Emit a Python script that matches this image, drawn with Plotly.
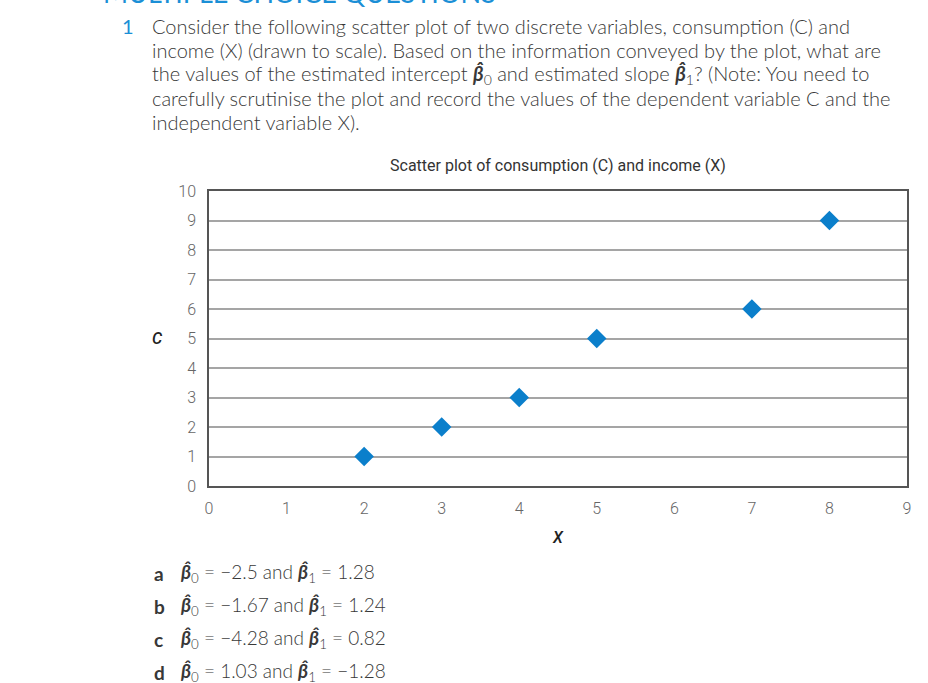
import plotly.graph_objects as go

# Data
income_x = [2, 3, 4, 5, 7, 8]
consumption_c = [1, 2, 3, 5, 6, 9]
x_ticks = [0, 1, 2, 3, 4, 5, 6, 7, 8, 9]
y_ticks = [0, 1, 2, 3, 4, 5, 6, 7, 8, 9, 10]

heading = "MULTIPLE CHOICE QUESTIONS"
question_lines = [
    "Consider the following scatter plot of two discrete variables, consumption (C) and",
    "income (X) (drawn to scale). Based on the information conveyed by the plot, what are",
    "the values of the estimated intercept <b><i>β̂</i></b><sub>0</sub> and estimated slope <b><i>β̂</i></b><sub>1</sub>? (Note: You need to",
    "carefully scrutinise the plot and record the values of the dependent variable C and the",
    "independent variable X).",
]
option_letters = ["a", "b", "c", "d"]
option_texts = [
    "<b><i>β̂</i></b><sub>0</sub> = −2.5 and <b><i>β̂</i></b><sub>1</sub> = 1.28",
    "<b><i>β̂</i></b><sub>0</sub> = −1.67 and <b><i>β̂</i></b><sub>1</sub> = 1.24",
    "<b><i>β̂</i></b><sub>0</sub> = −4.28 and <b><i>β̂</i></b><sub>1</sub> = 0.82",
    "<b><i>β̂</i></b><sub>0</sub> = 1.03 and <b><i>β̂</i></b><sub>1</sub> = −1.28",
]

W, H = 928, 683
L, R, T, B = 209, 907, 191, 486


def px(x):
    return (x - L) / (R - L)


def py(y):
    return (B - y) / (B - T)


fig = go.Figure()
fig.add_trace(go.Scatter(
    x=income_x, y=consumption_c, mode="markers",
    marker=dict(symbol="diamond", size=15, color="#0b7fcb"),
    showlegend=False, cliponaxis=False,
))

body_font = dict(family="Lato", size=20, color="#383838", weight=300)
ann = []
ann.append(dict(x=px(101), y=py(-8), text=heading, xanchor="left", yanchor="middle",
                font=dict(family="Lato", size=27, color="#1b8fd6", weight=400)))
ann.append(dict(x=px(120), y=py(26), text="1", xanchor="left", yanchor="middle",
                font=dict(family="Lato", size=20, color="#1b8fd6", weight=400)))
for i, line in enumerate(question_lines):
    ann.append(dict(x=px(150), y=py(26 + 24 * i), text=line, xanchor="left", yanchor="middle",
                    font=body_font))
for i, (let, txt) in enumerate(zip(option_letters, option_texts)):
    yy = 573 + 33 * i
    ann.append(dict(x=px(152), y=py(yy), text="<b>" + let + "</b>", xanchor="left", yanchor="middle",
                    font=dict(family="Lato", size=19, color="#383838", weight=400)))
    ann.append(dict(x=px(178), y=py(yy), text=txt, xanchor="left", yanchor="middle",
                    font=dict(family="Lato", size=19, color="#383838", weight=300)))
# chart title and axis labels
ann.append(dict(x=0.5, y=py(165), text="Scatter plot of consumption (C) and income (X)",
                xanchor="center", yanchor="middle",
                font=dict(family="Roboto", size=16, color="#333333", weight=400)))
ann.append(dict(x=px(157), y=py(338), text="<i>C</i>", xanchor="center", yanchor="middle",
                font=dict(family="Roboto", size=16, color="#222222", weight=500)))
ann.append(dict(x=0.5, y=py(537), text="<i>X</i>", xanchor="center", yanchor="middle",
                font=dict(family="Roboto", size=16, color="#222222", weight=500)))
for a in ann:
    a.update(xref="paper", yref="paper", showarrow=False)

tick_font = dict(family="Roboto", size=16, color="#666666", weight=300)
fig.update_layout(
    width=W, height=H,
    margin=dict(l=L, r=W - R, t=T, b=H - B),
    paper_bgcolor="white", plot_bgcolor="white",
    annotations=ann,
    xaxis=dict(range=[0, 9], tickvals=x_ticks, showgrid=False, zeroline=False,
               showline=True, linecolor="#555555", linewidth=1.5, mirror=True,
               ticks="", ticklabelstandoff=7, tickfont=tick_font),
    yaxis=dict(range=[0, 10], tickvals=y_ticks, showgrid=True, gridcolor="#a5a5a5", gridwidth=1.5,
               zeroline=False, showline=True, linecolor="#555555", linewidth=1.5, mirror=True,
               ticks="", ticklabelstandoff=8, tickfont=tick_font),
)

fig.write_html("out.html")
